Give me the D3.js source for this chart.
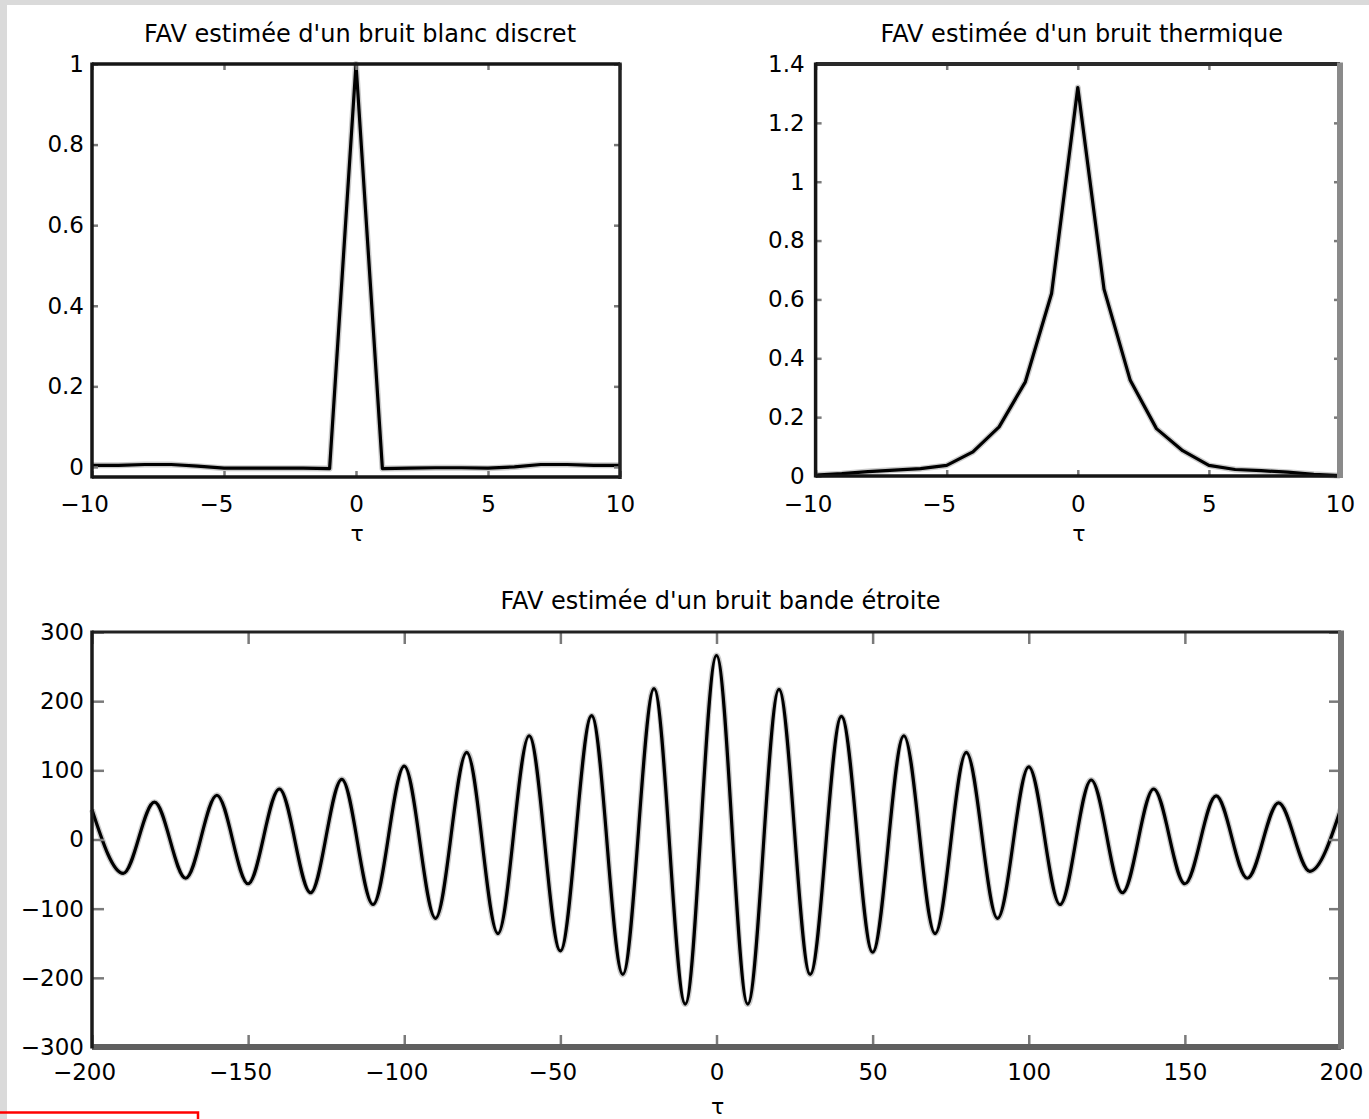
<!DOCTYPE html>
<html><head><meta charset="utf-8">
<script src="https://cdn.jsdelivr.net/npm/d3@7"></script>
<style>body{margin:0;background:#fff}svg{display:block}</style>
</head><body>
<svg id="c" width="1369" height="1119"></svg>
<script>
// ---------- data ----------
const titleWhite = "FAV estimée d'un bruit blanc discret";
const titleThermal = "FAV estimée d'un bruit thermique";
const titleNarrow = "FAV estimée d'un bruit bande étroite";
const xLabel = "τ";

const wnLags   = [-10,-9,-8,-7,-6,-5,-4,-3,-2,-1,0,1,2,3,4,5,6,7,8,9,10];
const wnValues = [0.004,0.004,0.006,0.006,0.002,-0.003,-0.003,-0.003,-0.003,-0.004,1,-0.004,-0.003,-0.002,-0.002,-0.003,0.0,0.006,0.006,0.004,0.004];

const thLags   = [-10,-9,-8,-7,-6,-5,-4,-3,-2,-1,0,1,2,3,4,5,6,7,8,9,10];
const thValues = [0.003,0.008,0.015,0.02,0.025,0.036,0.082,0.167,0.32,0.62,1.32,0.635,0.325,0.161,0.086,0.036,0.022,0.018,0.013,0.006,0.001];

const nbLags   = [-200,-190,-180,-170,-160,-150,-140,-130,-120,-110,-100,-90,-80,-70,-60,-50,-40,-30,-20,-10,0,10,20,30,40,50,60,70,80,90,100,110,120,130,140,150,160,170,180,190,200];
const nbValues = [43,-49,54,-56,64,-64,73,-77,87,-94,106,-114,126,-136,150,-161,179,-195,218,-238,266,-238,217,-195,178,-163,150,-136,126,-114,105,-94,86,-77,73,-64,63,-56,53,-46,45];

const xTicksTop  = [-10,-5,0,5,10];
const yTicksWn   = [0,0.2,0.4,0.6,0.8,1];
const yTicksTh   = [0,0.2,0.4,0.6,0.8,1,1.2,1.4];
const xTicksNb   = [-200,-150,-100,-50,0,50,100,150,200];
const yTicksNb   = [-300,-200,-100,0,100,200,300];

// ---------- drawing ----------
const svg = d3.select("#c");
svg.append("rect").attr("x",0).attr("y",0).attr("width",1369).attr("height",1119).attr("fill","#dadada");
svg.append("rect").attr("x",7).attr("y",5).attr("width",1362).attr("height",1114).attr("fill","#ffffff");

const FONT = "'DejaVu Sans', sans-serif";
const fmt = v => (v < 0 ? "\u2212" : "") + Math.abs(v);

function panel(o){
  const g = svg.append("g");
  const x = d3.scaleLinear().domain(o.xd).range([o.x0, o.x1]);
  const y = d3.scaleLinear().domain(o.yd).range([o.y1, o.y0]);

  // data line
  const line = d3.line().x(d => x(d[0])).y(d => y(d[1])).curve(o.curve);
  const pts = d3.zip(o.lags, o.vals);
  g.append("path").attr("d", line(pts)).attr("fill","none")
    .attr("stroke","#8c8c8c").attr("stroke-width",6).attr("opacity",0.45).attr("stroke-linejoin","round");
  g.append("path").attr("d", line(pts)).attr("fill","none")
    .attr("stroke","#000").attr("stroke-width",3.2).attr("stroke-linejoin","round");

  const style = (sel) => {
    sel.select(".domain").remove();
    sel.selectAll(".tick line").attr("stroke", "#7a7a7a").attr("stroke-width", 2.5);
    sel.selectAll(".tick text").attr("fill","#000").style("font-family", FONT).style("font-size", "23px");
  };

  // bottom / left axes with labels
  const ax = g.append("g").attr("transform", `translate(0,${o.y1})`)
    .call(d3.axisBottom(x).tickValues(o.xt).tickFormat(fmt).tickSizeInner(-o.tl).tickSizeOuter(0).tickPadding(o.xpad));
  style(ax);
  ax.selectAll(".tick text").attr("dx", d => d < 0 ? -8 : 0);

  const ay = g.append("g").attr("transform", `translate(${o.x0},0)`)
    .call(d3.axisLeft(y).tickValues(o.yt).tickFormat(fmt).tickSizeInner(-o.tl).tickSizeOuter(0).tickPadding(o.ypad));
  style(ay);

  // mirrored ticks on top / right
  const axT = g.append("g").attr("transform", `translate(0,${o.y0})`)
    .call(d3.axisTop(x).tickValues(o.xt).tickFormat("").tickSizeInner(-o.tl).tickSizeOuter(0));
  style(axT);
  const ayR = g.append("g").attr("transform", `translate(${o.x1},0)`)
    .call(d3.axisRight(y).tickValues(o.yt).tickFormat("").tickSizeInner(-o.tl).tickSizeOuter(0));
  style(ayR);

  // box
  const b = o.border;
  g.append("line").attr("x1",o.x0).attr("x2",o.x1).attr("y1",o.y0).attr("y2",o.y0).attr("stroke",b.top[0]).attr("stroke-width",b.top[1]);
  g.append("line").attr("x1",o.x0).attr("x2",o.x1).attr("y1",o.y1).attr("y2",o.y1).attr("stroke",b.bottom[0]).attr("stroke-width",b.bottom[1]);
  g.append("line").attr("x1",o.x0).attr("x2",o.x0).attr("y1",o.y0-1.5).attr("y2",o.y1+1.5).attr("stroke",b.left[0]).attr("stroke-width",b.left[1]);
  g.append("line").attr("x1",o.x1).attr("x2",o.x1).attr("y1",o.y0-1.5).attr("y2",o.y1+2).attr("stroke",b.right[0]).attr("stroke-width",b.right[1]);

  // title and x label
  g.append("text").attr("x",(o.x0+o.x1)/2+4).attr("y",o.titleY).attr("text-anchor","middle")
    .style("font-family",FONT).style("font-size","24px").attr("fill","#000").text(o.title);
  g.append("text").attr("x",(o.x0+o.x1)/2+1).attr("y",o.xlabY).attr("text-anchor","middle")
    .style("font-family",FONT).style("font-size","22px").attr("fill","#000").text(xLabel);
}

panel({
  x0:92, x1:620, y0:64, y1:477,
  xd:[-10,10], yd:[-0.025,1],
  lags:wnLags, vals:wnValues, curve:d3.curveLinear,
  xt:xTicksTop, yt:yTicksWn, tl:6, xpad:19, ypad:8,
  border:{top:["#151515",3.5], bottom:["#151515",3.5], left:["#151515",3.5], right:["#222",3.5]},
  title:titleWhite, titleY:42, xlabY:541
});

panel({
  x0:815.6, x1:1340, y0:64, y1:476,
  xd:[-10,10], yd:[0,1.4],
  lags:thLags, vals:thValues, curve:d3.curveLinear,
  xt:xTicksTop, yt:yTicksTh, tl:6, xpad:20, ypad:11,
  border:{top:["#2a2a2a",4], bottom:["#151515",3.5], left:["#151515",3.5], right:["#8a8a8a",6]},
  title:titleThermal, titleY:42, xlabY:541
});

panel({
  x0:92, x1:1341, y0:632, y1:1047,
  xd:[-200,200], yd:[-300,300],
  lags:nbLags, vals:nbValues, curve:d3.curveMonotoneX,
  xt:xTicksNb, yt:yTicksNb, tl:12, xpad:16.5, ypad:8,
  border:{top:["#222",3], bottom:["#5f5f5f",6], left:["#1a1a1a",3.5], right:["#737373",6]},
  title:titleNarrow, titleY:609, xlabY:1114
});

// clipped annotation box at bottom-left
svg.append("rect").attr("x",-3).attr("y",1112.5).attr("width",201).attr("height",20)
  .attr("fill","none").attr("stroke","#ff0000").attr("stroke-width",2.5);
</script>
</body></html>
